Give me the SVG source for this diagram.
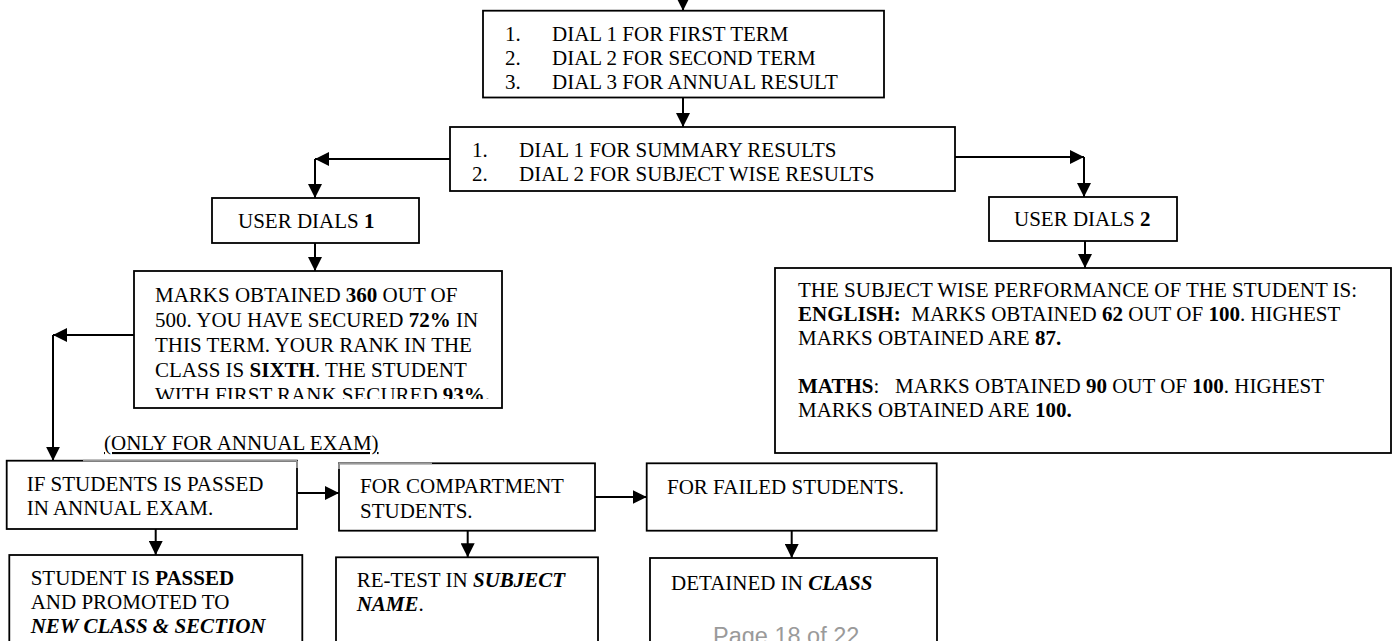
<svg xmlns="http://www.w3.org/2000/svg" width="1395" height="641" viewBox="0 0 1395 641">
<style>
  .box { fill: #ffffff; stroke: #000000; stroke-width: 1.8; }
  .t { font-family: "Liberation Serif", "Times New Roman", serif; font-size: 21px; fill: #000000; }
  .b { font-weight: bold; }
  .bi { font-weight: bold; font-style: italic; }
  .con { stroke: #000000; stroke-width: 2; fill: none; marker-end: url(#ah); }
  .gray { stroke: #9a9a9a; stroke-width: 1.8; fill: none; }
  .footer { font-family: "Liberation Sans", Arial, sans-serif; font-size: 23.5px; fill: #9a9a9a; }
</style>
<defs>
  <marker id="ah" viewBox="0 0 14 14" markerWidth="14" markerHeight="14" refX="14" refY="7" orient="auto" markerUnits="userSpaceOnUse">
    <path d="M0,0 L14,7 L0,14 Z" fill="#000000"/>
  </marker>
  <clipPath id="clipSummary">
    <rect x="134" y="271" width="368" height="128"/>
  </clipPath>
</defs>
<rect x="0" y="0" width="1395" height="641" fill="#ffffff"/>

<g id="connectors">
  <line class="con" x1="683" y1="-12" x2="683" y2="10.7"/>
  <line class="con" x1="683" y1="97.5" x2="683" y2="127"/>
  <line class="con" x1="450" y1="159" x2="315" y2="159"/>
  <line class="con" x1="315" y1="159" x2="315" y2="198"/>
  <line class="con" x1="955" y1="157" x2="1084" y2="157"/>
  <line class="con" x1="1084" y1="157" x2="1084" y2="197"/>
  <line class="con" x1="315" y1="243" x2="315" y2="271"/>
  <line class="con" x1="1085" y1="241" x2="1085" y2="268"/>
  <line class="con" x1="134" y1="335" x2="53" y2="335"/>
  <line class="con" x1="53" y1="335" x2="53" y2="460.7"/>
  <line class="con" x1="297" y1="493" x2="339" y2="493"/>
  <line class="con" x1="155.7" y1="529" x2="155.7" y2="555"/>
  <line class="con" x1="595" y1="497" x2="646.7" y2="497"/>
  <line class="con" x1="467.7" y1="530.7" x2="467.7" y2="557.3"/>
  <line class="con" x1="791.7" y1="530.7" x2="791.7" y2="558"/>
</g>

<g id="term-menu">
  <rect class="box" x="483" y="10.7" width="401" height="86.8"/>
  <text class="t" x="505" y="40.7">1.</text><text class="t" x="552" y="40.7">DIAL 1 FOR FIRST TERM</text>
  <text class="t" x="505" y="64.7">2.</text><text class="t" x="552" y="64.7">DIAL 2 FOR SECOND TERM</text>
  <text class="t" x="505" y="88.7">3.</text><text class="t" x="552" y="88.7">DIAL 3 FOR ANNUAL RESULT</text>
</g>

<g id="result-menu">
  <rect class="box" x="450" y="127" width="505" height="64"/>
  <text class="t" x="472" y="157">1.</text><text class="t" x="519" y="157">DIAL 1 FOR SUMMARY RESULTS</text>
  <text class="t" x="472" y="181">2.</text><text class="t" x="519" y="181">DIAL 2 FOR SUBJECT WISE RESULTS</text>
</g>

<g id="user-dials-1">
  <rect class="box" x="212" y="198" width="207" height="45"/>
  <text class="t" x="238" y="228">USER DIALS <tspan class="b">1</tspan></text>
</g>

<g id="user-dials-2">
  <rect class="box" x="989" y="197" width="188" height="44"/>
  <text class="t" x="1014" y="226">USER DIALS <tspan class="b">2</tspan></text>
</g>

<g id="summary-result">
  <rect class="box" x="134" y="271" width="368" height="137"/>
  <g clip-path="url(#clipSummary)">
    <text class="t" x="155" y="302">MARKS OBTAINED <tspan class="b">360</tspan> OUT OF</text>
    <text class="t" x="155" y="327">500. YOU HAVE SECURED <tspan class="b">72%</tspan> IN</text>
    <text class="t" x="155" y="352">THIS TERM. YOUR RANK IN THE</text>
    <text class="t" x="155" y="377">CLASS IS <tspan class="b">SIXTH</tspan>. THE STUDENT</text>
    <text class="t" x="155" y="402">WITH FIRST RANK SECURED <tspan class="b">93%.</tspan></text>
  </g>
</g>

<g id="subject-wise-result">
  <rect class="box" x="775" y="268" width="616" height="185"/>
  <text class="t" x="798" y="297">THE SUBJECT WISE PERFORMANCE OF THE STUDENT IS:</text>
  <text class="t" x="798" y="321" xml:space="preserve"><tspan class="b">ENGLISH:</tspan>  MARKS OBTAINED <tspan class="b">62</tspan> OUT OF <tspan class="b">100</tspan>. HIGHEST</text>
  <text class="t" x="798" y="345">MARKS OBTAINED ARE <tspan class="b">87.</tspan></text>
  <text class="t" x="798" y="393" xml:space="preserve"><tspan class="b">MATHS</tspan>:   MARKS OBTAINED <tspan class="b">90</tspan> OUT OF <tspan class="b">100</tspan>. HIGHEST</text>
  <text class="t" x="798" y="417">MARKS OBTAINED ARE <tspan class="b">100.</tspan></text>
</g>

<g id="annual-note">
  <text class="t" x="104" y="450" text-decoration="underline">(ONLY FOR ANNUAL EXAM)</text>
</g>

<g id="passed-check">
  <rect class="box" x="6.7" y="460.7" width="290.3" height="68.3"/>
  <line class="gray" x1="83" y1="460.7" x2="297" y2="460.7"/>
  <line class="gray" x1="297" y1="460.7" x2="297" y2="468"/>
  <text class="t" x="26.7" y="490.7">IF STUDENTS IS PASSED</text>
  <text class="t" x="26.7" y="515">IN ANNUAL EXAM.</text>
</g>

<g id="compartment">
  <rect class="box" x="339" y="463.3" width="256" height="67.4"/>
  <line class="gray" x1="339" y1="463.3" x2="432" y2="463.3"/>
  <line class="gray" x1="339" y1="463.3" x2="339" y2="469"/>
  <text class="t" x="360" y="493">FOR COMPARTMENT</text>
  <text class="t" x="360" y="518">STUDENTS.</text>
</g>

<g id="failed">
  <rect class="box" x="646.7" y="463.3" width="290" height="67.4"/>
  <text class="t" x="667" y="494">FOR FAILED STUDENTS.</text>
</g>

<g id="promoted">
  <rect class="box" x="9.3" y="555" width="293" height="110"/>
  <text class="t" x="30.7" y="585">STUDENT IS <tspan class="b">PASSED</tspan></text>
  <text class="t" x="30.7" y="609">AND PROMOTED TO</text>
  <text class="t bi" x="30.7" y="633">NEW CLASS &amp; SECTION</text>
</g>

<g id="retest">
  <rect class="box" x="336" y="557.3" width="262" height="110"/>
  <text class="t" x="356.7" y="587">RE-TEST IN <tspan class="bi">SUBJECT</tspan></text>
  <text class="t" x="356.7" y="611"><tspan class="bi">NAME</tspan>.</text>
</g>

<g id="detained">
  <rect class="box" x="650" y="558" width="287" height="110"/>
  <text class="t" x="671" y="590">DETAINED IN <tspan class="bi">CLASS</tspan></text>
</g>

<text class="footer" x="713" y="644">Page 18 of 22</text>
</svg>
